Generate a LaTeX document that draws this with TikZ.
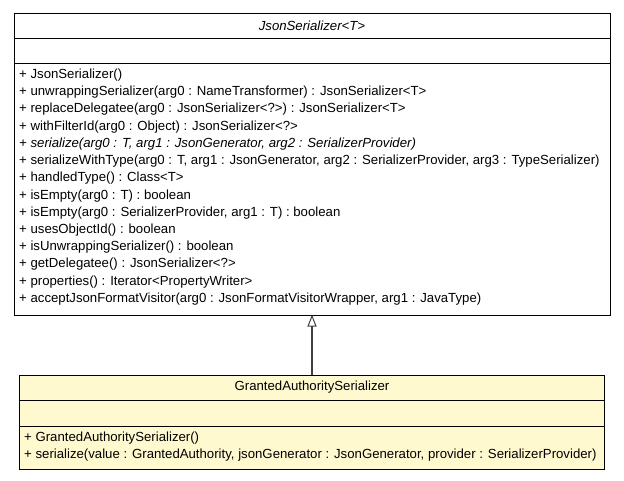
\documentclass[tikz,border=0pt]{standalone}
\usepackage{fontspec}
\setmainfont{Liberation Sans}
\usetikzlibrary{arrows.meta}
\definecolor{boxyellow}{RGB}{255,249,207}
\definecolor{linegray}{RGB}{64,64,64}
\tikzset{
  umlbox/.style={draw=black, line width=1pt, rectangle, inner sep=0pt},
  member/.style={anchor=west, inner sep=0pt, font=\fontsize{13.2}{15}\selectfont},
  titletext/.style={anchor=center, inner sep=0pt, font=\fontsize{13.2}{15}\selectfont},
  sep/.style={draw=black, line width=1pt},
  inherit/.style={draw=linegray, line width=1.3pt, -{Triangle[open, length=12pt, width=9pt, line width=1pt]}},
}
\begin{document}
\begin{tikzpicture}[x=1pt, y=-1pt]
\useasboundingbox (0,0) rectangle (624,480);
% super class
\node[umlbox, fill=white, minimum width=596pt, minimum height=302pt] (super) at (312,164) {};
\draw[sep] (14,38) coordinate (s1a) -- (610,38) coordinate (s1b);
\draw[sep] (14,63) coordinate (s2a) -- (610,63) coordinate (s2b);
\node[titletext] (supertitle) at (312,25.5) {\itshape JsonSerializer<T>};
\node[member] (m1) at (19,75) {+ JsonSerializer()};
\node[member] (m2) at (19,92.2) {+ unwrappingSerializer(arg0 : NameTransformer) : JsonSerializer<T>};
\node[member] (m3) at (19,109.5) {+ replaceDelegatee(arg0 : JsonSerializer<?>) : JsonSerializer<T>};
\node[member] (m4) at (19,126.7) {+ withFilterId(arg0 : Object) : JsonSerializer<?>};
\node[member] (m5) at (19,143.9) {\itshape + serialize(arg0 : T, arg1 : JsonGenerator, arg2 : SerializerProvider)};
\node[member] (m6) at (19,161.2) {+ serializeWithType(arg0 : T, arg1 : JsonGenerator, arg2 : SerializerProvider, arg3 : TypeSerializer)};
\node[member] (m7) at (19,178.4) {+ handledType() : Class<T>};
\node[member] (m8) at (19,195.6) {+ isEmpty(arg0 : T) : boolean};
\node[member] (m9) at (19,212.8) {+ isEmpty(arg0 : SerializerProvider, arg1 : T) : boolean};
\node[member] (m10) at (19,230.1) {+ usesObjectId() : boolean};
\node[member] (m11) at (19,247.3) {+ isUnwrappingSerializer() : boolean};
\node[member] (m12) at (19,264.5) {+ getDelegatee() : JsonSerializer<?>};
\node[member] (m13) at (19,281.8) {+ properties() : Iterator<PropertyWriter>};
\node[member] (m14) at (19,299) {+ acceptJsonFormatVisitor(arg0 : JsonFormatVisitorWrapper, arg1 : JavaType)};
% sub class
\node[umlbox, fill=boxyellow, minimum width=585pt, minimum height=94pt] (sub) at (311.5,422) {};
\draw[sep] (19,400) coordinate (t1a) -- (604,400) coordinate (t1b);
\draw[sep] (19,426) coordinate (t2a) -- (604,426) coordinate (t2b);
\node[titletext] (subtitle) at (312,387.5) {GrantedAuthoritySerializer};
\node[member] (n1) at (24,438) {+ GrantedAuthoritySerializer()};
\node[member] (n2) at (24,455.5) {+ serialize(value : GrantedAuthority, jsonGenerator : JsonGenerator, provider : SerializerProvider)};
% inheritance
\coordinate (arrstart) at (312,375);
\coordinate (arrend) at (312,314.5);
\draw[inherit] (arrstart) -- (arrend);
\end{tikzpicture}
\end{document}
